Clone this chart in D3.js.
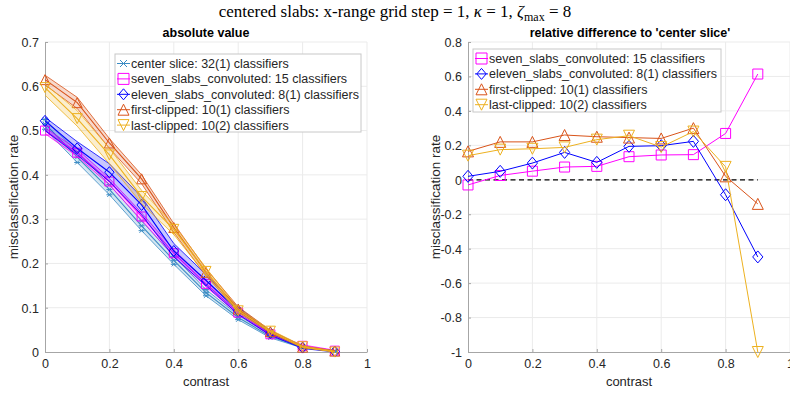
<!DOCTYPE html>
<html>
<head>
<meta charset="utf-8">
<script src="https://cdn.jsdelivr.net/npm/d3@7"></script>
<style>
  body { margin: 0; background: #fff; }
  svg { display: block; font-family: "Liberation Sans", Arial, sans-serif; }
</style>
</head>
<body>
<svg width="790" height="394"></svg>
<script>
// contrast levels
var contrast = [0, 0.1, 0.2, 0.3, 0.4, 0.5, 0.6, 0.7, 0.8, 0.9];

// absolute misclassification rate: mean, lower and upper edge of the band
var centerMean  = [0.515, 0.440, 0.367, 0.285, 0.207, 0.134, 0.078, 0.035, 0.011, 0.002];
var centerLow   = [0.503, 0.428, 0.355, 0.274, 0.198, 0.127, 0.073, 0.032, 0.009, 0.001];
var centerHigh  = [0.525, 0.452, 0.378, 0.296, 0.216, 0.141, 0.083, 0.038, 0.013, 0.003];

var sevenMean   = [0.500, 0.450, 0.385, 0.306, 0.223, 0.154, 0.089, 0.040, 0.014, 0.003];
var sevenLow    = [0.493, 0.442, 0.377, 0.298, 0.216, 0.147, 0.085, 0.037, 0.012, 0.002];
var sevenHigh   = [0.506, 0.458, 0.392, 0.314, 0.231, 0.160, 0.094, 0.043, 0.016, 0.004];

var elevenMean  = [0.522, 0.460, 0.406, 0.332, 0.228, 0.162, 0.093, 0.043, 0.010, 0.001];
var elevenLow   = [0.500, 0.445, 0.385, 0.310, 0.215, 0.150, 0.085, 0.038, 0.008, 0.000];
var elevenHigh  = [0.530, 0.475, 0.425, 0.350, 0.245, 0.175, 0.100, 0.048, 0.013, 0.002];

var firstMean   = [0.615, 0.563, 0.472, 0.391, 0.281, 0.180, 0.097, 0.046, 0.011, 0.002];
var firstLow    = [0.603, 0.550, 0.460, 0.380, 0.270, 0.172, 0.093, 0.043, 0.010, 0.001];
var firstHigh   = [0.625, 0.575, 0.482, 0.400, 0.290, 0.188, 0.102, 0.049, 0.013, 0.003];

var lastMean    = [0.597, 0.527, 0.445, 0.351, 0.277, 0.182, 0.093, 0.047, 0.012, 0.000];
var lastLow     = [0.580, 0.510, 0.425, 0.335, 0.265, 0.174, 0.089, 0.044, 0.010, 0.000];
var lastHigh    = [0.605, 0.545, 0.460, 0.365, 0.287, 0.190, 0.098, 0.050, 0.014, 0.002];

// relative difference to 'center slice'
var sevenRel    = [-0.03, 0.025, 0.05, 0.074, 0.078, 0.134, 0.144, 0.146, 0.269, 0.614];
var elevenRel   = [0.02, 0.049, 0.097, 0.159, 0.101, 0.194, 0.198, 0.223, -0.087, -0.448];
var firstRel    = [0.165, 0.22, 0.22, 0.26, 0.25, 0.245, 0.24, 0.30, 0.02, -0.14];
var lastRel     = [0.14, 0.175, 0.18, 0.188, 0.233, 0.256, 0.19, 0.28, 0.075, -1.0];

var legendLeft  = ["center slice: 32(1) classifiers", "seven_slabs_convoluted: 15 classifiers",
                   "eleven_slabs_convoluted: 8(1) classifiers", "first-clipped: 10(1) classifiers",
                   "last-clipped: 10(2) classifiers"];
var xTicks      = [0, 0.2, 0.4, 0.6, 0.8, 1];
var yTicksLeft  = [0, 0.1, 0.2, 0.3, 0.4, 0.5, 0.6, 0.7];
var yTicksRight = [-1, -0.8, -0.6, -0.4, -0.2, 0, 0.2, 0.4, 0.6, 0.8];

var svg = d3.select("svg");
var fmt = function(d) { return String(d); };   // plain hyphen minus like MATLAB

// marker shapes, s = full size in px
var marker = function(type, s) {
  var h = s / 2;
  if (type === "square") return "M" + (-h) + "," + (-h) + "h" + s + "v" + s + "h" + (-s) + "Z";
  if (type === "diamond") return "M0," + (-h) + "L" + (h * 0.85) + ",0L0," + h + "L" + (-h * 0.85) + ",0Z";
  if (type === "up") return "M0," + (-h) + "L" + h + "," + h + "L" + (-h) + "," + h + "Z";
  if (type === "down") return "M0," + h + "L" + h + "," + (-h) + "L" + (-h) + "," + (-h) + "Z";
  // asterisk
  return "M" + (-h) + ",0H" + h + "M" + (-h * 0.7) + "," + (-h * 0.7) + "L" + (h * 0.7) + "," + (h * 0.7) +
         "M" + (-h * 0.7) + "," + (h * 0.7) + "L" + (h * 0.7) + "," + (-h * 0.7);
};

var seriesLeft = [
  { name: legendLeft[0], color: "#3b8cc4", mark: "star",    size: 6,  mean: centerMean, low: centerLow, high: centerHigh },
  { name: legendLeft[1], color: "#ff00ff", mark: "square",  size: 9,  mean: sevenMean,  low: sevenLow,  high: sevenHigh },
  { name: legendLeft[2], color: "#0000ff", mark: "diamond", size: 11, mean: elevenMean, low: elevenLow, high: elevenHigh },
  { name: legendLeft[3], color: "#d95319", mark: "up",      size: 10, mean: firstMean,  low: firstLow,  high: firstHigh },
  { name: legendLeft[4], color: "#edb120", mark: "down",    size: 10, mean: lastMean,   low: lastLow,   high: lastHigh }
];
var seriesRight = [
  { name: legendLeft[1], color: "#ff00ff", mark: "square",  size: 10, vals: sevenRel },
  { name: legendLeft[2], color: "#0000ff", mark: "diamond", size: 12, vals: elevenRel },
  { name: legendLeft[3], color: "#d95319", mark: "up",      size: 11, vals: firstRel },
  { name: legendLeft[4], color: "#edb120", mark: "down",    size: 11, vals: lastRel }
];

var drawAxes = function(g, x, y, yTicks) {
  var x0 = x.range()[0], x1 = x.range()[1], y0 = y.range()[0], y1 = y.range()[1];
  // grid
  g.selectAll(".gx").data(xTicks.slice(1)).enter().append("line")
    .attr("x1", function(d) { return x(d); }).attr("x2", function(d) { return x(d); })
    .attr("y1", y0).attr("y2", y1).attr("stroke", "#ebebeb");
  g.selectAll(".gy").data(yTicks.slice(1)).enter().append("line")
    .attr("y1", function(d) { return y(d); }).attr("y2", function(d) { return y(d); })
    .attr("x1", x0).attr("x2", x1).attr("stroke", "#ebebeb");

  var xAxis = g.append("g").attr("transform", "translate(0," + y0 + ")")
    .call(d3.axisBottom(x).tickValues(xTicks).tickSizeInner(-3).tickSizeOuter(0).tickPadding(7).tickFormat(fmt));
  var yAxis = g.append("g").attr("transform", "translate(" + x0 + ",0)")
    .call(d3.axisLeft(y).tickValues(yTicks).tickSizeInner(-3).tickSizeOuter(0).tickPadding(6).tickFormat(fmt));
  [xAxis, yAxis].forEach(function(a) {
    a.select(".domain").attr("stroke", "#a6a6a6");
    a.selectAll(".tick line").attr("stroke", "#a6a6a6");
    a.selectAll("text").attr("fill", "#262626").style("font-size", "12.5px")
      .style("font-family", "'Liberation Sans', Arial, sans-serif");
  });
  yAxis.selectAll(".tick text").attr("dy", "0.35em");
  xAxis.selectAll(".tick text").attr("dy", "0.75em");
};

var drawLegend = function(g, items, bx, by, bw, bh) {
  g.append("rect").attr("x", bx).attr("y", by).attr("width", bw).attr("height", bh)
    .attr("fill", "#fff").attr("stroke", "#c8c8c8");
  var row = g.selectAll(".lg").data(items).enter().append("g")
    .attr("transform", function(d, i) { return "translate(" + (bx + 7) + "," + (by + 9.5 + i * 15.4) + ")"; });
  row.append("line").attr("x1", -5).attr("x2", 8).attr("stroke", function(d) { return d.color; });
  row.append("path").attr("d", function(d) { return marker(d.mark, d.mark === "star" ? 10 : 11); })
    .attr("transform", "translate(1.5,0)")
    .attr("fill", "none").attr("stroke", function(d) { return d.color; });
  row.append("text").attr("x", 9).attr("dy", "0.36em").text(function(d) { return d.name; })
    .style("font-size", "12.5px").attr("fill", "#262626");
};

// ---- main title
var title = svg.append("text").attr("x", 395).attr("y", 17).attr("text-anchor", "middle")
  .style("font-family", "'Liberation Serif', 'DejaVu Serif', serif").style("font-size", "17px");
title.append("tspan").text("centered slabs:  x-range grid step = 1, ");
title.append("tspan").style("font-style", "italic").text("κ");
title.append("tspan").text(" = 1, ");
title.append("tspan").style("font-style", "italic").text("ζ");
title.append("tspan").attr("dy", 4).style("font-size", "12px").text("max");
title.append("tspan").attr("dy", -4).text(" = 8");

// ---- left panel: absolute value
var xL = d3.scaleLinear().domain([0, 1]).range([45, 367]);
var yL = d3.scaleLinear().domain([0, 0.7]).range([352, 42]);
var gL = svg.append("g");
drawAxes(gL, xL, yL, yTicksLeft);

var area = d3.area().x(function(d) { return xL(d.x); })
  .y0(function(d) { return yL(d.lo); }).y1(function(d) { return yL(d.hi); });
var lineL = d3.line().x(function(d) { return xL(d.x); }).y(function(d) { return yL(d.y); });

seriesLeft.forEach(function(s) {
  var band = contrast.map(function(c, i) { return { x: c, lo: s.low[i], hi: s.high[i] }; });
  var sg = gL.append("g");
  sg.append("path").attr("d", area(band)).attr("fill", s.color).attr("fill-opacity", 0.22).attr("stroke", "none");
  [s.low, s.high, s.mean].forEach(function(arr, k) {
    var pts = contrast.map(function(c, i) { return { x: c, y: arr[i] }; });
    sg.append("path").attr("d", lineL(pts)).attr("fill", "none").attr("stroke", s.color)
      .attr("stroke-width", k === 2 ? 1.1 : 0.8);
    if (s.mark === "star" || k === 2) {
      sg.selectAll(null).data(pts).enter().append("path")
        .attr("d", marker(s.mark, s.size))
        .attr("transform", function(d) { return "translate(" + xL(d.x) + "," + yL(d.y) + ")"; })
        .attr("fill", "none").attr("stroke", s.color).attr("stroke-width", 1);
    }
  });
});

gL.append("text").attr("x", 206).attr("y", 37).attr("text-anchor", "middle")
  .style("font-weight", "bold").style("font-size", "12.5px").attr("fill", "#000").text("absolute value");
gL.append("text").attr("x", 206).attr("y", 386).attr("text-anchor", "middle")
  .style("font-size", "13px").attr("fill", "#262626").text("contrast");
gL.append("text").attr("transform", "translate(18,197) rotate(-90)").attr("text-anchor", "middle")
  .style("font-size", "13.5px").attr("fill", "#262626").text("misclassification rate");
drawLegend(gL, seriesLeft, 115, 54, 246, 78);

// ---- right panel: relative difference
var xR = d3.scaleLinear().domain([0, 1]).range([468, 790]);
var yR = d3.scaleLinear().domain([-1, 0.8]).range([352, 42]);
var gR = svg.append("g");
drawAxes(gR, xR, yR, yTicksRight);

gR.append("line").attr("x1", xR(0)).attr("x2", xR(0.9)).attr("y1", yR(0)).attr("y2", yR(0))
  .attr("stroke", "#000").attr("stroke-width", 1.2).attr("stroke-dasharray", "5,3.5");

var lineR = d3.line().x(function(d) { return xR(d.x); }).y(function(d) { return yR(d.y); });
seriesRight.forEach(function(s) {
  var pts = contrast.map(function(c, i) { return { x: c, y: s.vals[i] }; });
  var sg = gR.append("g");
  sg.append("path").attr("d", lineR(pts)).attr("fill", "none").attr("stroke", s.color).attr("stroke-width", 1);
  sg.selectAll(null).data(pts).enter().append("path")
    .attr("d", marker(s.mark, s.size))
    .attr("transform", function(d) { return "translate(" + xR(d.x) + "," + yR(d.y) + ")"; })
    .attr("fill", "none").attr("stroke", s.color).attr("stroke-width", 1);
});

gR.append("text").attr("x", 630).attr("y", 37).attr("text-anchor", "middle")
  .style("font-weight", "bold").style("font-size", "12.5px").attr("fill", "#000")
  .text("relative difference to 'center slice'");
gR.append("text").attr("x", 629).attr("y", 386).attr("text-anchor", "middle")
  .style("font-size", "13px").attr("fill", "#262626").text("contrast");
gR.append("text").attr("transform", "translate(440,197) rotate(-90)").attr("text-anchor", "middle")
  .style("font-size", "13.5px").attr("fill", "#262626").text("misclassification rate");
drawLegend(gR, seriesRight, 473, 49, 248, 63);
</script>
</body>
</html>
